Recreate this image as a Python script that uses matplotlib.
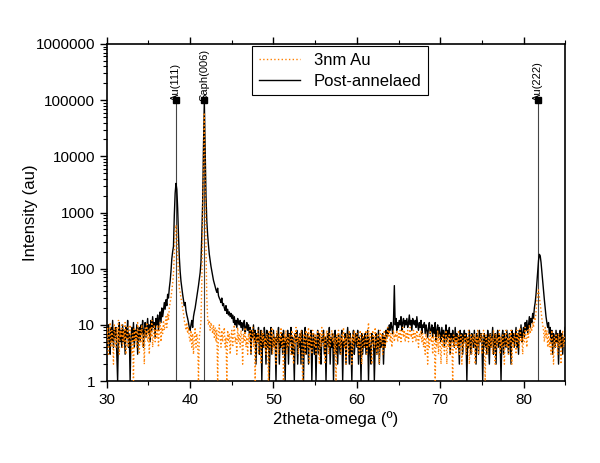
import numpy as np
import matplotlib.pyplot as plt
from matplotlib.ticker import LogLocator, FixedLocator, NullFormatter, FuncFormatter

plt.rcParams['font.family'] = ['Liberation Sans', 'DejaVu Sans']

# 2theta from 30.0 to 85.0 in 0.1 deg steps, one row per degree
two_theta = np.round(np.arange(300, 851) / 10.0, 1)

post_annealed = [
    7, 4, 10, 6, 3, 9, 5, 12, 4, 8,
    6, 9, 3, 1, 7, 11, 5, 8, 4, 10,
    5, 8, 3, 9, 6, 12, 4, 7, 1, 6,
    9, 5, 11, 4, 8, 6, 10, 3, 7, 9,
    5, 10, 7, 12, 4, 8, 11, 6, 9, 13,
    7, 10, 5, 12, 8, 14, 9, 11, 6, 13,
    10, 15, 8, 13, 17, 11, 20, 14, 18, 25,
    19, 28, 22, 35, 30, 45, 60, 90, 150, 200,
    250, 900, 2200, 3300, 2600, 1200, 400, 160, 90, 60,
    45, 35, 28, 22, 25, 18, 15, 13, 11, 9,
    8, 10, 12, 9, 14, 17, 20, 25, 32, 40,
    50, 65, 85, 130, 400, 1500, 15000, 90000, 15000, 2000,
    700, 400, 260, 180, 140, 110, 90, 75, 62, 55,
    48, 42, 38, 45, 33, 30, 28, 25, 30, 22,
    24, 20, 18, 22, 16, 19, 15, 17, 14, 16,
    13, 15, 11, 14, 10, 12, 9, 13, 11, 10,
    12, 9, 11, 8, 10, 12, 7, 9, 11, 8,
    10, 7, 9, 3, 8, 6, 10, 5, 8, 2,
    7, 5, 9, 3, 6, 8, 1, 7, 4, 9,
    6, 2, 8, 4, 7, 1, 6, 9, 3, 5,
    8, 4, 6, 1, 7, 5, 9, 2, 6, 4,
    7, 3, 8, 5, 1, 6, 4, 8, 2, 7,
    5, 9, 3, 6, 4, 1, 7, 5, 8, 2,
    6, 4, 7, 2, 8, 5, 1, 6, 9, 3,
    5, 7, 2, 6, 4, 8, 1, 5, 7, 3,
    6, 1, 5, 8, 3, 7, 4, 2, 6, 5,
    8, 3, 6, 1, 5, 7, 4, 9, 2, 6,
    4, 7, 1, 5, 8, 3, 6, 2, 7, 5,
    3, 6, 8, 1, 5, 4, 7, 2, 6, 9,
    5, 2, 7, 4, 1, 6, 8, 3, 5, 7,
    4, 8, 2, 6, 5, 1, 7, 3, 6, 4,
    7, 3, 5, 8, 1, 6, 4, 2, 7, 5,
    6, 1, 4, 7, 3, 5, 8, 2, 6, 4,
    5, 7, 2, 6, 4, 8, 6, 9, 7, 10,
    8, 11, 9, 7, 12, 50, 10, 13, 8, 11,
    9, 12, 10, 14, 8, 11, 13, 9, 12, 10,
    13, 9, 11, 15, 10, 12, 8, 13, 11, 10,
    12, 9, 14, 10, 8, 11, 9, 12, 7, 10,
    9, 11, 7, 10, 8, 6, 9, 11, 7, 8,
    10, 6, 9, 7, 11, 5, 8, 10, 6, 9,
    7, 5, 9, 6, 8, 4, 7, 10, 5, 8,
    6, 9, 3, 7, 5, 8, 6, 4, 9, 5,
    7, 4, 6, 2, 8, 5, 7, 3, 6, 8,
    5, 7, 1, 6, 4, 8, 5, 3, 7, 6,
    4, 8, 5, 2, 7, 6, 3, 8, 5, 7,
    6, 1, 5, 7, 4, 6, 3, 8, 5, 2,
    7, 4, 6, 9, 3, 5, 7, 2, 6, 8,
    4, 7, 5, 1, 6, 8, 3, 7, 5, 4,
    8, 5, 3, 7, 6, 2, 8, 5, 7, 4,
    6, 9, 4, 7, 3, 8, 6, 10, 5, 7,
    9, 6, 11, 8, 12, 7, 10, 14, 9, 13,
    11, 16, 13, 20, 25, 35, 55, 85, 140, 180,
    170, 130, 90, 60, 40, 28, 20, 14, 11, 9,
    11, 7, 9, 5, 8, 3, 7, 6, 4, 8,
    5, 7, 2, 6, 8, 4, 7, 3, 6, 5,
    9,
]

au_3nm = [
    5, 9, 3, 7, 11, 4, 8, 6, 2, 10,
    7, 4, 9, 5, 12, 3, 8, 6, 10, 4,
    8, 5, 11, 3, 7, 9, 4, 6, 10, 5,
    3, 7, 1, 9, 5, 8, 4, 11, 6, 3,
    8, 5, 10, 4, 7, 2, 9, 6, 11, 5,
    8, 3, 9, 6, 12, 4, 7, 10, 5, 8,
    6, 10, 4, 8, 11, 5, 9, 7, 12, 8,
    10, 14, 9, 16, 12, 20, 25, 30, 40, 55,
    80, 180, 420, 600, 450, 200, 80, 45, 38, 30,
    25, 20, 16, 12, 10, 8, 11, 7, 9, 6,
    5, 8, 4, 7, 3, 6, 9, 4, 7, 5,
    1, 6, 8, 12, 60, 500, 8000, 60000, 5000, 250,
    30, 13, 10, 12, 8, 11, 9, 7, 10, 6,
    9, 5, 8, 1, 7, 10, 6, 4, 8, 5,
    7, 9, 4, 6, 1, 8, 5, 7, 3, 6,
    8, 4, 7, 10, 5, 6, 3, 9, 5, 7,
    4, 8, 6, 2, 7, 5, 9, 4, 6, 3,
    7, 5, 8, 3, 6, 9, 4, 7, 1, 6,
    5, 8, 3, 7, 6, 2, 8, 5, 7, 4,
    6, 3, 7, 5, 1, 8, 4, 6, 9, 3,
    7, 4, 6, 2, 8, 5, 3, 7, 5, 9,
    4, 6, 1, 7, 5, 8, 3, 6, 4, 7,
    6, 3, 8, 5, 2, 7, 4, 9, 5, 6,
    3, 7, 5, 8, 4, 1, 6, 7, 3, 8,
    6, 4, 9, 2, 7, 5, 3, 8, 6, 4,
    7, 3, 6, 8, 5, 2, 7, 4, 9, 5,
    4, 7, 2, 6, 8, 5, 3, 7, 4, 6,
    8, 5, 7, 3, 6, 1, 7, 5, 8, 4,
    6, 3, 7, 5, 9, 4, 6, 2, 7, 5,
    3, 8, 5, 6, 2, 7, 4, 8, 5, 6,
    7, 4, 6, 3, 8, 5, 2, 7, 6, 4,
    5, 8, 3, 6, 11, 4, 7, 5, 2, 8,
    6, 4, 9, 5, 3, 7, 6, 2, 8, 5,
    7, 3, 6, 8, 4, 7, 5, 9, 6, 8,
    5, 7, 4, 6, 8, 5, 7, 6, 8, 5,
    7, 6, 8, 5, 7, 9, 6, 8, 5, 7,
    6, 8, 5, 7, 9, 6, 7, 5, 8, 6,
    7, 5, 8, 6, 4, 7, 6, 8, 5, 7,
    4, 6, 3, 7, 5, 2, 6, 4, 8, 5,
    6, 3, 7, 5, 1, 6, 4, 8, 3, 7,
    5, 2, 6, 4, 7, 3, 5, 8, 2, 6,
    4, 7, 3, 6, 5, 1, 7, 4, 6, 3,
    6, 4, 8, 3, 5, 7, 2, 6, 4, 5,
    7, 3, 6, 4, 8, 2, 5, 7, 3, 6,
    5, 7, 2, 6, 4, 8, 3, 6, 5, 7,
    3, 6, 8, 4, 1, 7, 5, 3, 6, 4,
    7, 4, 6, 3, 8, 5, 2, 7, 4, 6,
    5, 8, 3, 6, 4, 7, 5, 2, 6, 8,
    4, 6, 3, 7, 5, 8, 2, 6, 4, 7,
    6, 3, 8, 5, 7, 4, 9, 5, 6, 3,
    7, 5, 9, 6, 4, 8, 6, 10, 7, 9,
    8, 11, 9, 13, 12, 17, 26, 40, 42, 32,
    24, 18, 13, 10, 8, 5, 9, 6, 8, 4,
    7, 4, 6, 3, 8, 5, 2, 6, 4, 7,
    5, 3, 7, 4, 6, 2, 5, 8, 4, 6,
    5,
]

ref_pos = [38.25, 41.69, 81.76]
ref_height = 100000
ref_labels = ['Au(111)', 'Saph(006)', 'Au(222)']

fig = plt.figure(figsize=(6, 4.63), dpi=100)
ax = fig.add_axes([0.178, 0.177, 0.764, 0.728])

ax.plot(two_theta, post_annealed, color='black', linewidth=1.0, label='Post-annelaed', zorder=3)
ax.plot(two_theta, au_3nm, color='#ff8000', linewidth=1.0, linestyle=':', label='3nm Au', zorder=4)

for pos, lab in zip(ref_pos, ref_labels):
	ax.plot([pos, pos], [1, ref_height], color='#444444', linewidth=0.8, zorder=2)
	ax.plot([pos], [ref_height], marker='s', markersize=5, color='black', zorder=5)
	ax.text(pos, ref_height * 0.95, lab, rotation=90, ha='center', va='bottom', fontsize=8)

ax.set_yscale('log')
ax.set_xlim(30, 85)
ax.set_ylim(1, 1000000)
ax.xaxis.set_major_locator(FixedLocator([30, 40, 50, 60, 70, 80]))
ax.xaxis.set_minor_locator(FixedLocator([35, 45, 55, 65, 75, 85]))
ax.yaxis.set_major_locator(LogLocator(base=10, numticks=10))
ax.yaxis.set_minor_locator(LogLocator(base=10, subs=np.arange(2, 10), numticks=20))
ax.yaxis.set_minor_formatter(NullFormatter())
ax.yaxis.set_major_formatter(FuncFormatter(lambda v, p: '%d' % v))

ax.tick_params(axis='both', which='major', direction='out', length=5, width=1, labelsize=11)
ax.tick_params(axis='both', which='minor', direction='out', length=3, width=0.8)
ax.tick_params(axis='x', which='both', top=True)
ax.tick_params(axis='y', which='both', right=False)
for s in ax.spines.values():
	s.set_linewidth(1.2)

ax.set_xlabel('2theta-omega (º)', fontsize=12, labelpad=3)
ax.set_ylabel('Intensity (au)', fontsize=12, labelpad=8)
ax.yaxis.set_label_coords(-0.15, 0.5)

handles, labels = ax.get_legend_handles_labels()
leg = ax.legend(handles[::-1], labels[::-1], loc='upper left', bbox_to_anchor=(0.317, 0.994),
	fontsize=12, fancybox=False, framealpha=1, edgecolor='black', borderaxespad=0,
	handlelength=2.5, borderpad=0.4, labelspacing=0.35)
leg.get_frame().set_linewidth(0.8)

fig.savefig('out.png', dpi=100)
